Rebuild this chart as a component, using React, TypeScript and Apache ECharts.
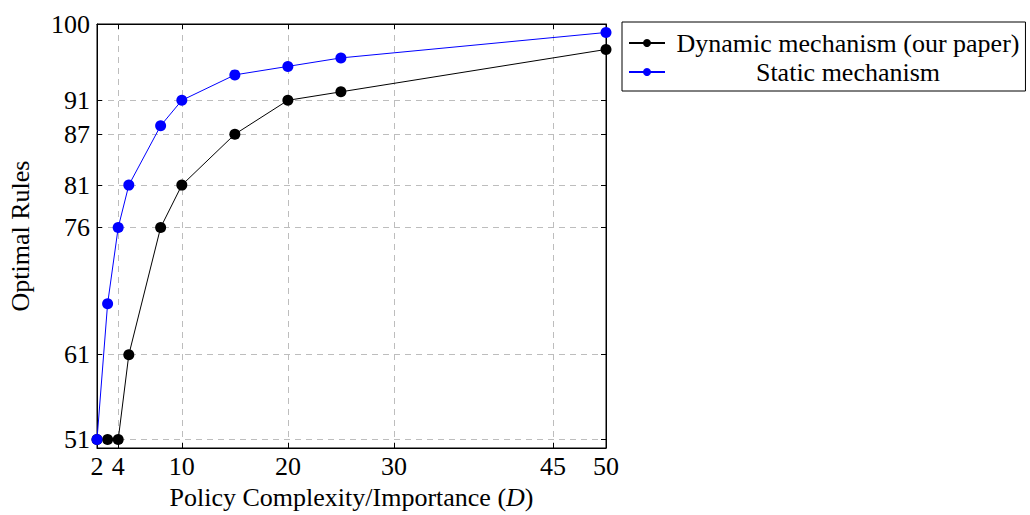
import React, { useEffect, useRef } from "react";
import * as echarts from "echarts";

const xValues = [2, 3, 4, 5, 8, 10, 15, 20, 25, 50];
const dynamicValues = [51, 51, 51, 61, 76, 81, 87, 91, 92, 97];
const staticValues = [51, 67, 76, 81, 88, 91, 94, 95, 96, 99];
const xTicks = [2, 4, 10, 20, 30, 45, 50];
const yTicks = [51, 61, 76, 81, 87, 91, 100];
const seriesNames = ["Dynamic mechanism (our paper)", "Static mechanism"];

const FONT = "Liberation Serif";
const FS = 26;

export default function App() {
  const ref = useRef<HTMLDivElement>(null);
  useEffect(() => {
    if (!ref.current) return;
    const chart = echarts.init(ref.current, null, { renderer: "svg" });
    const toPairs = (ys: number[]) => xValues.map((x, i) => [x, ys[i]]);
    const tickStyle = { inside: true, length: 5, lineStyle: { color: "#000", width: 1 } };
    const gridLine = { show: true, lineStyle: { color: "#bdbdbd", type: [6, 5] as any, width: 1 } };
    const txt = { fontFamily: FONT, fontSize: FS, color: "#000" };
    chart.setOption({
      animation: false,
      backgroundColor: "#fff",
      grid: {
        left: 97, top: 24, width: 509, height: 424,
        outerBoundsMode: "none", containLabel: false,
        show: true, borderColor: "#000", borderWidth: 1, backgroundColor: "transparent",
      },
      legend: {
        left: 622,
        top: 22,
        orient: "vertical",
        itemWidth: 36,
        itemHeight: 10,
        itemGap: 3,
        padding: [8, 6, 6, 6],
        borderColor: "#000",
        borderWidth: 1,
        data: seriesNames,
        formatter: (name: string) => `{c|${name}}`,
        textStyle: { ...txt, rich: { c: { ...txt, width: 356, align: "center" } } },
      },
      xAxis: [
        {
          type: "value",
          min: 2,
          max: 50,
          name: "Policy Complexity/Importance ({i|D})",
          nameLocation: "middle",
          nameGap: 36,
          nameTextStyle: { ...txt, rich: { i: { ...txt, fontStyle: "italic" } } },
          axisLine: { show: true, lineStyle: { color: "#000" } },
          axisTick: { ...tickStyle, customValues: xTicks },
          axisLabel: { ...txt, customValues: xTicks, margin: 5 },
          splitLine: gridLine,
        },
        {
          type: "value",
          position: "top",
          min: 2,
          max: 50,
          axisLine: { show: true, lineStyle: { color: "#000" } },
          axisTick: { ...tickStyle, customValues: xTicks },
          axisLabel: { show: false },
          splitLine: { show: false },
        },
      ],
      yAxis: [
        {
          type: "value",
          min: 50,
          max: 100,
          name: "Optimal Rules",
          nameLocation: "middle",
          nameGap: 64,
          nameTextStyle: txt,
          axisLine: { show: true, lineStyle: { color: "#000" } },
          axisTick: { ...tickStyle, customValues: yTicks },
          axisLabel: { ...txt, customValues: yTicks, margin: 7 },
          splitLine: gridLine,
        },
        {
          type: "value",
          position: "right",
          min: 50,
          max: 100,
          axisLine: { show: true, lineStyle: { color: "#000" } },
          axisTick: { ...tickStyle, customValues: yTicks },
          axisLabel: { show: false },
          splitLine: { show: false },
        },
      ],
      series: [
        {
          name: seriesNames[0],
          type: "line",
          data: toPairs(dynamicValues),
          symbol: "circle",
          symbolSize: 11,
          color: "#000",
          lineStyle: { color: "#000", width: 1 },
          itemStyle: { color: "#000" },
        },
        {
          name: seriesNames[1],
          type: "line",
          data: toPairs(staticValues),
          symbol: "circle",
          symbolSize: 11,
          color: "#0000ff",
          lineStyle: { color: "#0000ff", width: 1 },
          itemStyle: { color: "#0000ff" },
        },
      ],
    });
    return () => chart.dispose();
  }, []);
  return <div ref={ref} style={{ width: 1030, height: 515, position: "absolute", left: 0, top: 0 }} />;
}
